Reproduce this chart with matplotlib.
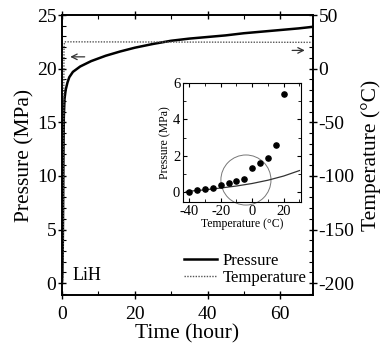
import numpy as np
import matplotlib.pyplot as plt
from matplotlib.ticker import MultipleLocator

plt.rcParams['font.family'] = ['Liberation Serif', 'DejaVu Serif']
plt.rcParams['axes.unicode_minus'] = False

# main curves
t_p = [0, 0.1, 0.2, 0.3, 0.4, 0.5, 0.7, 1.0, 1.5, 2.0, 3.0, 5.0, 8.0, 12, 16, 20, 25, 30, 35, 40, 45, 50, 55, 60, 65, 69]
p = [0, 1.0, 3.0, 7.0, 12.0, 15.5, 17.2, 18.0, 18.7, 19.2, 19.7, 20.2, 20.7, 21.2, 21.6, 21.95, 22.3, 22.6, 22.8, 22.95, 23.1, 23.3, 23.45, 23.6, 23.75, 23.9]
t_T = [0, 0.3, 0.45, 0.55, 0.7, 69]
temp = [-200, -195, -60, 20, 25, 24.5]

# inset data
ins_T = [-40, -35, -30, -25, -20, -15, -10, -5, 0, 5, 10, 15, 20]
ins_P = [0.0, 0.13, 0.17, 0.22, 0.37, 0.5, 0.62, 0.7, 1.3, 1.6, 1.85, 2.6, 5.4]
fit_T = [-42, -30, -20, -10, 0, 10, 20, 30]
fit_P = [0.03, 0.12, 0.22, 0.33, 0.47, 0.65, 0.88, 1.18]

fig = plt.figure(figsize=(3.84, 3.53), dpi=100)
ax = fig.add_axes([62/384, 1-295/353, 251/384, 280/353])
ax2 = ax.twinx()

ax.plot(t_p, p, color='black', lw=1.8, label='Pressure')
ax2.plot(t_T, temp, color='#555555', lw=1.0, ls=(0, (1, 1)), label='Temperature')

ax.set_xlim(0, 69)
ax.set_ylim(-1.1, 25)
ax2.set_ylim(-211, 50)
ax.set_xticks([0, 20, 40, 60])
ax.xaxis.set_minor_locator(MultipleLocator(10))
ax.set_yticks([0, 5, 10, 15, 20, 25])
ax.yaxis.set_minor_locator(MultipleLocator(1))
ax2.set_yticks([-200, -150, -100, -50, 0, 50])
ax2.yaxis.set_minor_locator(MultipleLocator(10))
ax.tick_params(which='major', direction='inout', length=6, width=1, labelsize=14, top=True, pad=1)
ax.tick_params(axis='x', which='major', pad=5)
ax.tick_params(which='minor', direction='in', length=3, width=0.8, top=True)
ax2.tick_params(which='major', direction='inout', length=6, width=1, labelsize=14, pad=1)
ax2.tick_params(which='minor', direction='in', length=3, width=0.8)
ax.set_xlabel('Time (hour)', fontsize=15.5, labelpad=1)
ax.set_ylabel('Pressure (MPa)', fontsize=15.5, labelpad=2)
ax2.set_ylabel('Temperature (\u00b0C)', fontsize=15.5, labelpad=5)
for a in (ax, ax2):
    for s in a.spines.values():
        s.set_linewidth(1.2)

ax.annotate('', xy=(1.5, 21.1), xytext=(7, 21.1),
            arrowprops=dict(arrowstyle='->', color='#333333', lw=0.9))
ax2.annotate('', xy=(67.5, 17), xytext=(62.5, 17),
             arrowprops=dict(arrowstyle='->', color='#333333', lw=0.9))

ax.text(3, 0.3, 'LiH', fontsize=13)

h1, l1 = ax.get_legend_handles_labels()
h2, l2 = ax2.get_legend_handles_labels()
ax2.legend(h1 + h2, l1 + l2, loc='lower right', frameon=False, fontsize=12,
           handlelength=2.0, handletextpad=0.3, borderaxespad=0.0, labelspacing=0.05,
           bbox_to_anchor=(1.0, 0.01))

# inset
ins = fig.add_axes([183/384, 1-202/353, 118/384, 119/353])
ins.scatter(ins_T, ins_P, s=14, color='black', zorder=3)
ins.plot(fit_T, fit_P, color='#333333', lw=0.9)
ins.scatter([-4], [0.66], s=1300, facecolors='none', edgecolors='#777777',
            linewidths=0.7, clip_on=False)
ins.set_xlim(-44, 31)
ins.set_ylim(-0.55, 6)
ins.set_xticks([-40, -20, 0, 20])
ins.xaxis.set_minor_locator(MultipleLocator(10))
ins.set_yticks([0, 2, 4, 6])
ins.yaxis.set_minor_locator(MultipleLocator(1))
ins.tick_params(which='major', direction='in', length=3, labelsize=10.5, top=True, right=True, pad=2)
ins.tick_params(which='minor', direction='in', length=2, top=True, right=True)
ins.set_xlabel('Temperature (\u00b0C)', fontsize=8.5, labelpad=0)
ins.set_ylabel('Pressure (MPa)', fontsize=8.5, labelpad=1)

fig.savefig('out.png', dpi=100)
